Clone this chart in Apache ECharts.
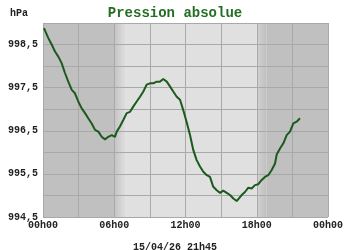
<!DOCTYPE html>
<html>
<head>
<meta charset="utf-8">
<script src="https://cdn.jsdelivr.net/npm/echarts@6/dist/echarts.min.js"></script>
<style>html,body{margin:0;padding:0;background:#fff}#c{width:350px;height:250px}</style>
</head>
<body>
<div id="c"></div>
<script>
var titleText = "Pression absolue";
var unitText = "hPa";
var dateText = "15/04/26 21h45";
var times = [0.08,0.45,0.73,1.01,1.29,1.57,1.85,2.13,2.42,2.69,2.97,3.26,3.54,3.81,4.10,4.38,4.66,4.94,5.22,5.50,5.79,6.06,6.21,6.48,6.76,7.05,7.33,7.60,7.89,8.17,8.45,8.73,9.01,9.29,9.57,9.85,10.13,10.42,10.69,10.97,11.26,11.54,11.81,12.10,12.38,12.66,12.94,13.22,13.50,13.79,14.06,14.34,14.63,14.91,15.18,15.47,15.75,16.03,16.31,16.45,16.73,17.01,17.29,17.57,17.85,18.13,18.42,18.69,18.97,19.26,19.54,19.68,19.96,20.24,20.52,20.80,21.08,21.36,21.64];
var pressures = [998.88,998.65,998.50,998.34,998.22,998.07,997.84,997.64,997.45,997.37,997.18,997.02,996.91,996.79,996.67,996.52,996.48,996.36,996.30,996.36,996.40,996.36,996.48,996.60,996.75,996.91,996.94,997.06,997.18,997.29,997.41,997.57,997.60,997.60,997.64,997.64,997.70,997.64,997.53,997.41,997.29,997.22,996.98,996.70,996.40,996.05,995.82,995.67,995.55,995.47,995.43,995.20,995.12,995.06,995.11,995.06,995.01,994.93,994.87,994.86,995.01,995.08,995.18,995.16,995.24,995.26,995.36,995.43,995.47,995.59,995.74,995.95,996.09,996.21,996.40,996.48,996.67,996.71,996.79];
var yMin = 994.5, yMax = 999, yStep = 0.5;
var xMin = 0, xMax = 24, xStep = 3;
var nightEnd = 6, dayEnd = 18;

var data = times.map(function(t,i){ return [t, pressures[i]]; });
var font = "'Liberation Mono', 'DejaVu Sans Mono', monospace";
function pad(n){ return (n<10?'0':'')+n; }

var chart = echarts.init(document.getElementById('c'), null, {renderer:'canvas'});
chart.setOption({
  animation: false,
  backgroundColor: '#ffffff',
  title: [
    {text: titleText, left: 'center', top: 1, textStyle:{fontFamily: font, fontWeight:'bold', fontSize:14, color:'#236e23'}},
    {text: unitText, left: 5, top: 3, textStyle:{fontFamily: font, fontWeight:'bold', fontSize:10, color:'#222'}},
    {text: dateText, left: 'center', top: 237, textStyle:{fontFamily: font, fontWeight:'bold', fontSize:10, color:'#222'}}
  ],
  grid: {left: 43, right: 22, top: 23, bottom: 33, containLabel: false},
  xAxis: {
    type: 'value', min: xMin, max: xMax, interval: xStep, z: 3,
    axisLine: {show: false}, axisTick: {show: false},
    splitLine: {show: true, lineStyle: {color: '#a9a9a9', width: 1}},
    axisLabel: {
      margin: 3, fontFamily: font, fontWeight: 'bold', fontSize: 10, color: '#222',
      showMinLabel: true, showMaxLabel: true,
      formatter: function(v){ return (v % 6 === 0) ? pad(v % 24) + 'h00' : ''; }
    }
  },
  yAxis: {
    type: 'value', min: yMin, max: yMax, interval: yStep, z: 3,
    axisLine: {show: false}, axisTick: {show: false},
    splitLine: {show: true, lineStyle: {color: '#a9a9a9', width: 1}},
    axisLabel: {
      margin: 5, fontFamily: font, fontWeight: 'bold', fontSize: 10, color: '#222',
      formatter: function(v){
        var r = Math.abs(((v - yMin) % 1 + 1) % 1);
        if (r < 0.01 || r > 0.99) return v.toFixed(1).replace('.', ',');
        return '';
      }
    }
  },
  series: [{
    type: 'line', data: [], z: 1, silent: true,
    markArea: {
      silent: true, z: 1,
      data: [
        [{xAxis: xMin, itemStyle:{color:'#c0c0c0'}}, {xAxis: nightEnd}],
        [{xAxis: nightEnd, itemStyle:{color: new echarts.graphic.LinearGradient(0,0,1,0,[{offset:0,color:'#c4c4c4'},{offset:1,color:'#e0e0e0'}])}}, {xAxis: nightEnd + 1}],
        [{xAxis: nightEnd + 1, itemStyle:{color:'#e0e0e0'}}, {xAxis: dayEnd}],
        [{xAxis: dayEnd, itemStyle:{color: new echarts.graphic.LinearGradient(0,0,1,0,[{offset:0,color:'#d2d2d2'},{offset:1,color:'#c0c0c0'}])}}, {xAxis: dayEnd + 0.8}],
        [{xAxis: dayEnd + 0.8, itemStyle:{color:'#c0c0c0'}}, {xAxis: xMax}]
      ]
    }
  }, {
    type: 'line', data: data, showSymbol: false, smooth: false,
    lineStyle: {color: '#1b5a1b', width: 2},
    z: 5
  }]
});
</script>
</body>
</html>
